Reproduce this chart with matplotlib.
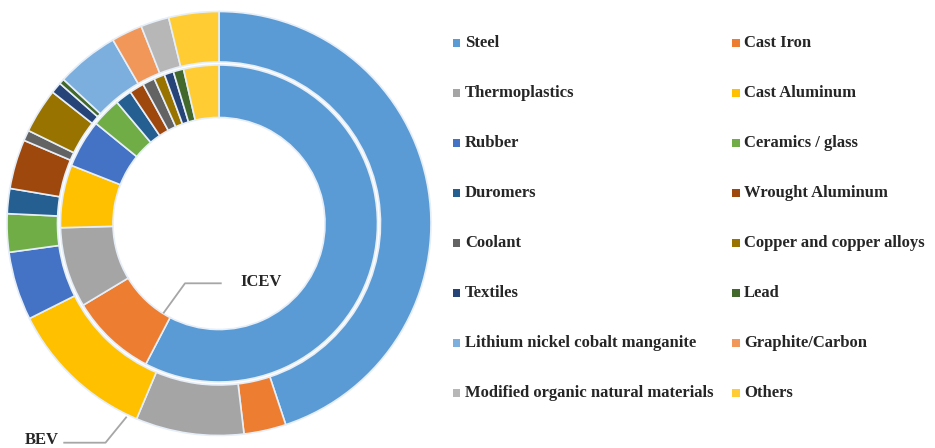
import matplotlib
matplotlib.use("Agg")
import matplotlib.pyplot as plt
from matplotlib.patches import Rectangle

categories = ["Steel", "Cast Iron", "Thermoplastics", "Cast Aluminum", "Rubber",
              "Ceramics / glass", "Duromers", "Wrought Aluminum", "Coolant",
              "Copper and copper alloys", "Textiles", "Lead",
              "Lithium nickel cobalt manganite", "Graphite/Carbon",
              "Modified organic natural materials", "Others"]

icev = [57.7, 8.75, 8.2, 6.4, 4.9, 3.0, 1.7, 1.5, 1.25, 1.1, 0.95, 1.05, 0, 0, 0, 3.6]
bev = [44.7, 3.2, 8.2, 11.2, 5.2, 2.9, 1.9, 3.75, 0.8, 3.4, 0.85, 0.4, 4.75, 2.35, 2.15, 3.8]

colors = ["#5B9BD5", "#ED7D31", "#A5A5A5", "#FFC000", "#4472C4", "#70AD47",
          "#255E91", "#9E480E", "#636363", "#997300", "#264478", "#43682B",
          "#7CAFDD", "#F1975A", "#B7B7B7", "#FFCD33"]

W, H = 935, 448
fig = plt.figure(figsize=(W / 100, H / 100), dpi=100)
ax = fig.add_axes([0, 0, 1, 1])

cx, cy = 219, H - 223.5
edge = dict(edgecolor="#E6EEF8", linewidth=1.2)

# outer ring: BEV
ax.pie(bev, colors=colors, startangle=90, counterclock=False, center=(cx, cy),
       radius=212, wedgeprops=dict(width=50.5, **edge), frame=True)
# inner ring: ICEV
icev_c = [c for v, c in zip(icev, colors) if v > 0]
icev_v = [v for v in icev if v > 0]
ax.pie(icev_v, colors=icev_c, startangle=90, counterclock=False, center=(cx, cy),
       radius=158.5, wedgeprops=dict(width=52.5, **edge), frame=True)
ax.set_xlim(0, W)
ax.set_ylim(0, H)
ax.set_aspect("equal")
ax.axis("off")

font = dict(family=["Liberation Serif", "DejaVu Serif"], fontweight="bold", fontsize=12)
line_kw = dict(color="#A6A6A6", linewidth=1.3, solid_capstyle="butt")

# ICEV leader
ax.plot([163.3, 185, 221.7], [H - 313.3, H - 283.3, H - 283.3], **line_kw)
ax.text(240.5, H - 282, "ICEV", ha="left", va="center", color="#262626", **font)
# BEV leader
ax.plot([126.7, 105.5, 63.3], [H - 416.7, H - 442.7, H - 442.7], **line_kw)
ax.text(25, H - 439.5, "BEV", ha="left", va="center", color="#262626", **font)

# legend (two columns)
col_marker_x = [452.7, 732]
col_text_x = [465, 744]
row_y0, row_step = 43, 50
msz = 7.5
for i, (name, col) in enumerate(zip(categories, colors)):
    r, c = divmod(i, 2)
    yc = H - (row_y0 + r * row_step)
    ax.add_patch(Rectangle((col_marker_x[c], yc - msz / 2), msz, msz,
                           facecolor=col, edgecolor="none"))
    ax.text(col_text_x[c], yc, name, ha="left", va="center", color="#262626", **font)

fig.savefig("out.png", dpi=100, facecolor="white")
